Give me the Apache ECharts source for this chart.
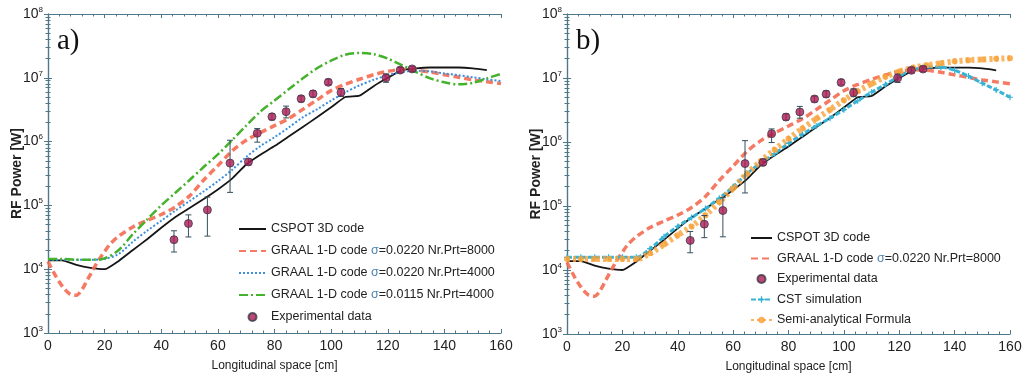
<!DOCTYPE html>
<html>
<head>
<meta charset="utf-8">
<script src="https://cdn.jsdelivr.net/npm/echarts@6/dist/echarts.min.js"></script>
<style>
  html, body { margin: 0; padding: 0; background: #ffffff; }
  #chart { width: 1025px; height: 383px; }
</style>
</head>
<body>
<div id="chart"></div>
<script>
// Longitudinal positions [cm] shared by most simulated curves
const posStep5 = [0,5,10,15,20,25,30,35,40,45,50,55,60,65,70,75,80,85,90,95,100,105,110,115,120,125,130,135,140,145,150,155,160];

// CSPOT 3D code
const cspotX = [0,5,10,15,20,25,30,35,40,45,50,55,60,65,70,75,80,85,90,95,100,105,110,115,120,125,130,135,140,145,150,155];
const cspotP = [1.38e4,1.38e4,1.17e4,1.05e4,1.0e4,1.35e4,2.0e4,2.95e4,4.47e4,6.6e4,9.1e4,1.26e5,1.78e5,2.63e5,4.37e5,6.2e5,8.5e5,1.2e6,1.7e6,2.4e6,3.45e6,5.0e6,5.25e6,7.4e6,1.0e7,1.32e7,1.41e7,1.45e7,1.45e7,1.45e7,1.41e7,1.32e7];

// GRAAL 1-D code, sigma=0.0220, 8000 particles
const graal8000X = [0,2,4,6,8,10,12,14,16,18,20,22,25,30,35,40,45,50,55,60,65,70,75,80,85,90,95,100,105,110,115,120,125,130,135,140,145,150,155,160];
const graal8000P = [1.32e4,8.9e3,6.3e3,4.8e3,4.0e3,3.9e3,4.8e3,6.9e3,1.0e4,1.41e4,1.9e4,2.5e4,3.3e4,4.6e4,5.8e4,7.2e4,9.5e4,1.41e5,2.5e5,4.2e5,7.1e5,1.05e6,1.38e6,1.78e6,2.3e6,3.2e6,4.5e6,6.3e6,7.9e6,9.5e6,1.12e7,1.26e7,1.35e7,1.32e7,1.23e7,1.12e7,1.02e7,9.3e6,8.7e6,8.1e6];

// GRAAL 1-D code, sigma=0.0220, 4000 particles
const graal4000P = [1.41e4,1.41e4,1.41e4,1.41e4,1.45e4,1.74e4,2.7e4,4.0e4,5.75e4,8.3e4,1.17e5,1.66e5,2.4e5,3.6e5,5.75e5,8.5e5,1.17e6,1.66e6,2.4e6,3.2e6,4.4e6,5.9e6,7.6e6,9.3e6,1.1e7,1.23e7,1.29e7,1.26e7,1.17e7,1.1e7,1.02e7,9.5e6,8.9e6];

// GRAAL 1-D code, sigma=0.0115, 4000 particles
const graalNarrowP = [1.45e4,1.45e4,1.41e4,1.41e4,1.48e4,2.0e4,3.55e4,6.0e4,1.0e5,1.58e5,2.5e5,4.0e5,6.3e5,1.05e6,1.78e6,2.95e6,4.4e6,6.6e6,9.8e6,1.41e7,1.86e7,2.3e7,2.45e7,2.35e7,2.0e7,1.58e7,1.23e7,9.8e6,8.5e6,7.9e6,8.3e6,9.8e6,1.15e7];

// CST simulation
const cstP = [1.58e4,1.58e4,1.58e4,1.58e4,1.58e4,1.58e4,2.15e4,3.3e4,4.8e4,6.6e4,9.1e4,1.32e5,2.0e5,3.2e5,4.7e5,6.6e5,9.5e5,1.32e6,1.78e6,2.35e6,3.2e6,4.4e6,6.0e6,7.9e6,1.07e7,1.35e7,1.48e7,1.48e7,1.32e7,1.07e7,8.3e6,6.5e6,5.0e6];

// Semi-analytical formula
const semiP = [1.48e4,1.48e4,1.48e4,1.48e4,1.48e4,1.48e4,1.82e4,2.5e4,3.5e4,4.8e4,7.2e4,1.15e5,1.9e5,3.2e5,5.0e5,7.6e5,1.12e6,1.62e6,2.3e6,3.2e6,4.5e6,6.2e6,8.1e6,1.05e7,1.26e7,1.45e7,1.58e7,1.7e7,1.82e7,1.9e7,1.95e7,2.0e7,2.04e7];

// Experimental data with error-bar limits
const expX  = [44.5,49.6,56.3,64.3,70.8,73.9,79.1,84.1,89.4,93.6,99.0,103.5,119.4,124.4,128.6];
const expP  = [2.9e4,5.2e4,8.5e4,4.6e5,4.8e5,1.35e6,2.45e6,2.95e6,4.7e6,5.6e6,8.5e6,5.9e6,1.0e7,1.32e7,1.38e7];
const expLo = [1.86e4,3.2e4,3.3e4,1.6e5,4.3e5,9.8e5,2.2e6,2.35e6,4.2e6,5.0e6,7.8e6,5.1e6,8.5e6,1.2e7,1.26e7];
const expHi = [4.0e4,7.1e4,1.35e5,1.05e6,5.4e5,1.6e6,2.75e6,3.6e6,5.2e6,6.3e6,9.5e6,6.8e6,1.15e7,1.45e7,1.5e7];

// Axis ticks
const xTicks = { min: 0, max: 160, interval: 20 };
const yRange = { min: 1e3, max: 1e8 };

// Legend names
const NAME_CSPOT = 'CSPOT 3D code';
const NAME_G8000 = 'GRAAL 1-D code σ=0.0220 Nr.Prt=8000';
const NAME_G4000 = 'GRAAL 1-D code σ=0.0220 Nr.Prt=4000';
const NAME_G0115 = 'GRAAL 1-D code σ=0.0115 Nr.Prt=4000';
const NAME_EXP = 'Experimental data';
const NAME_CST = 'CST simulation';
const NAME_SEMI = 'Semi-analytical Formula';

const zip = (xs, ys) => xs.map((x, i) => [x, ys[i]]);

const AXIS_COLOR = '#4d7889';
const TEXT_COLOR = '#222';
const FONT = 'Liberation Sans, Arial, sans-serif';

function xAxesFor(gridIndex) {
  const common = {
    type: 'value', gridIndex, min: xTicks.min, max: xTicks.max, interval: xTicks.interval,
    axisLine: { show: true, lineStyle: { color: AXIS_COLOR, width: 1.2 } },
    axisTick: { show: true, inside: true, length: 4, lineStyle: { color: AXIS_COLOR } },
    minorTick: { show: true, splitNumber: 5, length: 2.5, lineStyle: { color: AXIS_COLOR } },
    splitLine: { show: false }
  };
  return [
    Object.assign({}, common, {
      position: 'bottom',
      name: 'Longitudinal space [cm]', nameLocation: 'middle', nameGap: 27,
      nameTextStyle: { color: TEXT_COLOR, fontSize: 12, fontFamily: FONT },
      axisLabel: { color: TEXT_COLOR, fontSize: 14, fontFamily: FONT, margin: 6 }
    }),
    Object.assign({}, common, { position: 'top', axisLabel: { show: false } })
  ];
}

function yAxesFor(gridIndex) {
  const common = {
    type: 'log', logBase: 10, gridIndex, min: yRange.min, max: yRange.max,
    axisLine: { show: true, lineStyle: { color: AXIS_COLOR, width: 1.2 } },
    axisTick: { show: true, inside: true, length: 4, lineStyle: { color: AXIS_COLOR } },
    minorTick: { show: true, splitNumber: 9, length: 2.5, lineStyle: { color: AXIS_COLOR } },
    splitLine: { show: false }
  };
  return [
    Object.assign({}, common, {
      position: 'left',
      name: 'RF Power [W]', nameLocation: 'middle', nameGap: 24, nameMoveOverlap: false,
      nameTextStyle: { color: TEXT_COLOR, fontSize: 14, fontWeight: 'bold', fontFamily: FONT },
      axisLabel: {
        margin: 5,
        formatter: v => '{b|10}{s|' + Math.round(Math.log10(v)) + '}',
        rich: {
          b: { color: TEXT_COLOR, fontSize: 14, fontFamily: FONT },
          s: { color: TEXT_COLOR, fontSize: 8, fontFamily: FONT, padding: [0, 0, 9, 0] }
        }
      }
    }),
    Object.assign({}, common, { position: 'right', axisLabel: { show: false } })
  ];
}

function errorBars(params, api) {
  const x = api.value(0);
  const top = api.coord([x, api.value(2)]);
  const bot = api.coord([x, api.value(1)]);
  const w = 3;
  const style = { stroke: '#35505e', lineWidth: 1 };
  return {
    type: 'group',
    children: [
      { type: 'line', shape: { x1: top[0], y1: top[1], x2: bot[0], y2: bot[1] }, style },
      { type: 'line', shape: { x1: top[0] - w, y1: top[1], x2: top[0] + w, y2: top[1] }, style },
      { type: 'line', shape: { x1: bot[0] - w, y1: bot[1], x2: bot[0] + w, y2: bot[1] }, style }
    ]
  };
}

function lineSeries(name, data, axisIdx, lineStyle, extra) {
  return Object.assign({
    name, type: 'line', data,
    xAxisIndex: axisIdx.x, yAxisIndex: axisIdx.y,
    symbol: 'none', smooth: 0.3, lineStyle,
    itemStyle: { color: lineStyle.color }, emphasis: { disabled: true }, z: 3
  }, extra || {});
}

function expSeries(axisIdx) {
  return [
    {
      type: 'custom', renderItem: errorBars,
      xAxisIndex: axisIdx.x, yAxisIndex: axisIdx.y,
      data: expX.map((x, i) => [x, expLo[i], expHi[i]]),
      encode: { x: 0, y: [1, 2] }, z: 8, silent: true
    },
    {
      name: NAME_EXP, type: 'scatter', data: zip(expX, expP),
      xAxisIndex: axisIdx.x, yAxisIndex: axisIdx.y,
      symbol: 'circle', symbolSize: 8,
      itemStyle: { color: '#ad1a55', borderColor: '#3b3b47', borderWidth: 1 },
      emphasis: { disabled: true }, z: 9
    }
  ];
}

const styles = {
  cspot: { color: '#161616', width: 1.8, type: 'solid' },
  g8000: { color: '#f36c52', width: 3.5, type: [7, 4], opacity: 0.9 },
  g4000: { color: '#3d8fdc', width: 2, type: [2, 2] },
  g0115: { color: '#45b22c', width: 2.5, type: [9, 3, 2, 3] },
  cst:   { color: '#38b3d6', width: 3, type: [5, 2] },
  semi:  { color: '#f8a23a', width: 6, type: [3, 3], opacity: 0.8 }
};

const L = { x: 0, y: 0 };
const R = { x: 2, y: 2 };

const series = [
  // panel a)
  lineSeries(NAME_CSPOT, zip(cspotX, cspotP), L, styles.cspot, { smooth: 0.15 }),
  lineSeries(NAME_G8000, zip(graal8000X, graal8000P), L, styles.g8000),
  lineSeries(NAME_G4000, zip(posStep5, graal4000P), L, styles.g4000),
  lineSeries(NAME_G0115, zip(posStep5, graalNarrowP), L, styles.g0115),
  ...expSeries(L),
  // panel b)
  lineSeries(NAME_CSPOT, zip(cspotX, cspotP), R, styles.cspot, { smooth: 0.15 }),
  lineSeries(NAME_G8000, zip(graal8000X, graal8000P), R, styles.g8000),
  lineSeries(NAME_CST, zip(posStep5, cstP), R, styles.cst, {
    symbol: 'path://M4,0H6V4H10V6H6V10H4V6H0V4H4Z', symbolSize: 6, showSymbol: true, z: 4
  }),
  lineSeries(NAME_SEMI, zip(posStep5, semiP), R, styles.semi, {
    symbol: 'circle', symbolSize: 6, showSymbol: true, z: 4,
    itemStyle: { color: '#f8a23a', opacity: 0.85 }
  }),
  ...expSeries(R)
];

const legendText = {
  color: TEXT_COLOR, fontSize: 12.5, fontFamily: FONT, lineHeight: 14,
  rich: { g: { color: '#4f86b3', fontSize: 12.5, fontFamily: FONT, lineHeight: 14 } }
};
const legendFormatter = name => name.replace('σ', '{g|σ}');
// line-only entries: hide the marker in the legend icon
const plain = name => ({ name, itemStyle: { opacity: 0 } });

const option = {
  backgroundColor: '#ffffff',
  animation: false,
  grid: [
    { left: 48, right: 524, top: 14, bottom: 50 },
    { left: 567, right: 15, top: 14, bottom: 49 }
  ],
  xAxis: [...xAxesFor(0), ...xAxesFor(1)],
  yAxis: [...yAxesFor(0), ...yAxesFor(1)],
  legend: [
    {
      orient: 'vertical', left: 233, top: 217,
      itemWidth: 27, itemHeight: 8, itemGap: 8,
      textStyle: legendText, formatter: legendFormatter,
      selectedMode: false,
      data: [plain(NAME_CSPOT), plain(NAME_G8000), plain(NAME_G4000), plain(NAME_G0115), NAME_EXP]
    },
    {
      orient: 'vertical', left: 745, top: 226,
      itemWidth: 21, itemHeight: 8, itemGap: 6.5,
      textStyle: legendText, formatter: legendFormatter,
      selectedMode: false,
      data: [plain(NAME_CSPOT), plain(NAME_G8000), NAME_EXP, NAME_CST, NAME_SEMI]
    }
  ],
  graphic: [
    { type: 'text', left: 57, top: 27, style: { text: 'a)', fontSize: 29, fontFamily: 'Liberation Serif, Times New Roman, serif', fill: '#111' } },
    { type: 'text', left: 576, top: 27, style: { text: 'b)', fontSize: 29, fontFamily: 'Liberation Serif, Times New Roman, serif', fill: '#111' } }
  ],
  series
};

const chart = echarts.init(document.getElementById('chart'), null, { renderer: 'canvas' });
chart.setOption(option);
</script>
</body>
</html>
